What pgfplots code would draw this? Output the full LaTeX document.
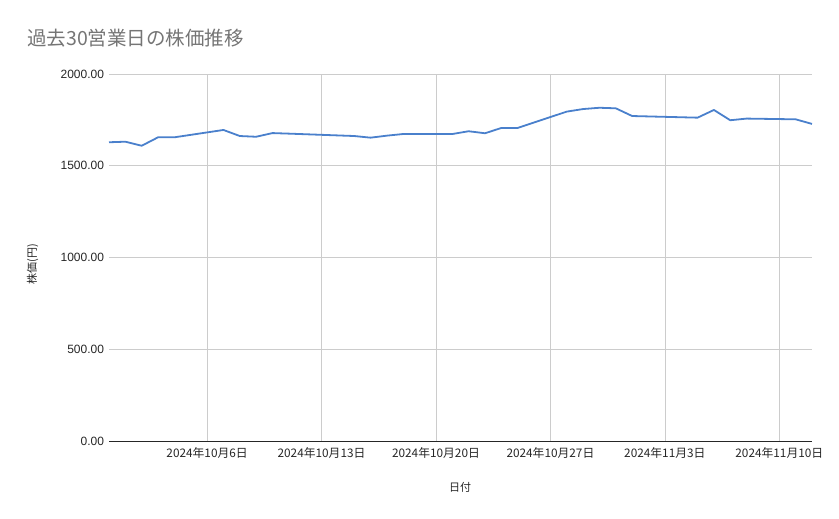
\documentclass[border=0pt]{standalone}
\usepackage{pgfplots}
\pgfplotsset{compat=1.18}
\usepackage{fontspec}
\setmainfont{Liberation Sans}
\newfontfamily\jp{Noto Sans CJK JP}
\definecolor{line}{HTML}{4A80CC}
\definecolor{titlegray}{HTML}{757575}
\definecolor{gridc}{HTML}{CCCCCC}
\begin{document}
\begin{tikzpicture}[x=1pt,y=1pt]
\useasboundingbox (0,0) rectangle (839,519);
\node[anchor=base west, text=titlegray, font=\jp\fontsize{19.5}{20}\selectfont, inner sep=0] at (27,473) {過去30営業日の株価推移};
\node[rotate=90, font=\jp\fontsize{11}{11}\selectfont, text=black!85] at (32.5,255) {株価(円)};
\node[font=\jp\fontsize{11}{11}\selectfont, text=black!85] at (460,32) {日付};
\begin{axis}[
  at={(109pt,78pt)}, anchor=south west,
  scale only axis, width=703pt, height=367pt,
  xmin=0, xmax=43, ymin=0, ymax=2000,
  xtick={6,13,20,27,34,41},
  xticklabels={2024年10月6日,2024年10月13日,2024年10月20日,2024年10月27日,2024年11月3日,2024年11月10日},
  ytick={0,500,1000,1500,2000},
  yticklabel={\pgfmathprintnumber[fixed,fixed zerofill,precision=2,use period,1000 sep={}]{\tick}},
  /pgf/number format/assume math mode=true,
  xticklabel style={font=\jp\fontsize{11.8}{12}\selectfont, text=black!85, yshift=-3pt},
  yticklabel style={font=\fontsize{12}{12}\selectfont, text=black!85, xshift=-1.5pt},
  xmajorgrids, ymajorgrids,
  grid style={gridc, line width=0.7pt},
  major tick length=0pt,
  axis line style={draw=none},
  extra y ticks={0}, extra y tick labels={},
  extra y tick style={grid style={black!85, line width=0.9pt}},
  clip=false,
]
\addplot[line, line width=1.8pt, line join=round] coordinates {
(0,1628) (1,1631) (2,1609) (3,1655) (4,1655)
(7,1695) (8,1662) (9,1658) (10,1678) (11,1675)
(15,1662) (16,1653) (17,1664) (18,1673)
(21,1673) (22,1688) (23,1677) (24,1706) (25,1706)
(28,1795) (29,1809) (30,1816) (31,1813) (32,1771)
(36,1762) (37,1804) (38,1748) (39,1757)
(42,1753) (43,1728)
};
\end{axis}
\end{tikzpicture}
\end{document}
